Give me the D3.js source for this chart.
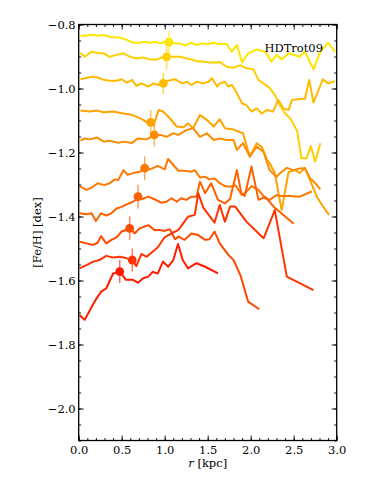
<!DOCTYPE html>
<html>
<head>
<meta charset="utf-8">
<script src="https://cdn.jsdelivr.net/npm/d3@7"></script>
<style>
  body { margin: 0; background: #fff; }
  svg text { font-family: "DejaVu Serif", serif; fill: #000; }
</style>
</head>
<body>
<svg id="chart" width="374" height="498"></svg>
<script>
// radial [Fe/H] profiles, one per age bin, [r (kpc), [Fe/H] (dex)]
const line1 = [[0.02,-0.835],[0.07,-0.835],[0.15,-0.832],[0.23,-0.835],[0.29,-0.833],[0.38,-0.840],[0.46,-0.840],[0.56,-0.848],[0.64,-0.857],[0.71,-0.857],[0.77,-0.854],[0.83,-0.857],[0.89,-0.854],[0.95,-0.859],[1.00,-0.854],[1.12,-0.859],[1.18,-0.859],[1.24,-0.866],[1.31,-0.857],[1.37,-0.864],[1.43,-0.859],[1.51,-0.861],[1.57,-0.857],[1.62,-0.861],[1.72,-0.861],[1.78,-0.885],[1.84,-0.864],[1.90,-0.919],[1.97,-0.890],[2.07,-0.878],[2.17,-0.885],[2.24,-0.916],[2.30,-0.895],[2.36,-0.909],[2.44,-0.890],[2.57,-0.901],[2.63,-0.885],[2.73,-0.940],[2.81,-0.885],[2.90,-0.857],[2.98,-0.885]];
const line2 = [[0.02,-0.888],[0.07,-0.901],[0.15,-0.885],[0.23,-0.890],[0.29,-0.890],[0.36,-0.901],[0.44,-0.895],[0.52,-0.890],[0.60,-0.901],[0.67,-0.906],[0.75,-0.903],[0.83,-0.909],[0.91,-0.909],[0.97,-0.903],[1.02,-0.901],[1.10,-0.901],[1.18,-0.901],[1.26,-0.906],[1.33,-0.911],[1.39,-0.916],[1.45,-0.916],[1.53,-0.919],[1.61,-0.919],[1.64,-0.917],[1.72,-0.932],[1.80,-0.935],[1.88,-0.927],[1.95,-0.937],[2.03,-0.940],[2.09,-0.973],[2.15,-0.984],[2.22,-0.998],[2.28,-1.020],[2.34,-1.052],[2.40,-1.078],[2.46,-1.093],[2.54,-1.133],[2.59,-1.218],[2.65,-1.218],[2.70,-1.180],[2.75,-1.229],[2.81,-1.171]];
const line3 = [[0.02,-0.971],[0.07,-0.968],[0.15,-0.963],[0.21,-0.965],[0.29,-0.973],[0.36,-0.976],[0.44,-0.976],[0.50,-0.971],[0.56,-0.982],[0.62,-0.973],[0.67,-0.992],[0.73,-0.984],[0.81,-0.994],[0.87,-0.984],[0.93,-0.989],[1.04,-0.976],[1.12,-0.971],[1.20,-0.984],[1.26,-0.979],[1.31,-0.989],[1.37,-0.979],[1.45,-0.984],[1.51,-0.979],[1.55,-0.968],[1.61,-0.994],[1.64,-0.984],[1.70,-0.979],[1.74,-0.994],[1.78,-0.989],[1.82,-1.005],[1.90,-1.046],[1.95,-1.052],[2.01,-1.072],[2.07,-1.062],[2.13,-1.078],[2.19,-1.067],[2.26,-1.072],[2.32,-1.036],[2.38,-1.062],[2.44,-1.067],[2.48,-1.036],[2.57,-1.033],[2.63,-1.033],[2.68,-0.973],[2.73,-1.044],[2.84,-0.971],[2.90,-0.984],[2.98,-0.977]];
const line4 = [[0.02,-1.069],[0.13,-1.072],[0.21,-1.069],[0.29,-1.074],[0.40,-1.072],[0.52,-1.078],[0.60,-1.081],[0.67,-1.088],[0.75,-1.098],[0.81,-1.109],[0.87,-1.115],[0.93,-1.067],[0.98,-1.072],[1.06,-1.093],[1.14,-1.119],[1.22,-1.121],[1.27,-1.109],[1.33,-1.124],[1.41,-1.083],[1.49,-1.098],[1.57,-1.119],[1.64,-1.096],[1.70,-1.124],[1.80,-1.128],[1.84,-1.133],[1.91,-1.140],[1.99,-1.213],[2.07,-1.171],[2.13,-1.183],[2.19,-1.223],[2.22,-1.233],[2.28,-1.264],[2.36,-1.380],[2.44,-1.261],[2.52,-1.255],[2.57,-1.264],[2.63,-1.248],[2.69,-1.286],[2.77,-1.339],[2.83,-1.364],[2.91,-1.395]];
const line5 = [[0.02,-1.163],[0.07,-1.156],[0.13,-1.159],[0.21,-1.153],[0.29,-1.166],[0.36,-1.163],[0.46,-1.170],[0.52,-1.166],[0.62,-1.170],[0.69,-1.156],[0.79,-1.159],[0.88,-1.145],[0.95,-1.145],[1.02,-1.151],[1.10,-1.140],[1.16,-1.145],[1.25,-1.130],[1.33,-1.124],[1.41,-1.151],[1.49,-1.140],[1.57,-1.161],[1.64,-1.156],[1.72,-1.161],[1.80,-1.161],[1.84,-1.192],[1.91,-1.171],[1.99,-1.213],[2.07,-1.182],[2.15,-1.198],[2.22,-1.255],[2.30,-1.276],[2.36,-1.260],[2.42,-1.248],[2.50,-1.255],[2.57,-1.250],[2.63,-1.249],[2.69,-1.280],[2.75,-1.296],[2.81,-1.315]];
const line6 = [[0.01,-1.305],[0.09,-1.317],[0.15,-1.310],[0.22,-1.296],[0.30,-1.302],[0.36,-1.296],[0.42,-1.284],[0.46,-1.286],[0.52,-1.255],[0.57,-1.270],[0.65,-1.263],[0.71,-1.260],[0.77,-1.250],[0.83,-1.253],[0.86,-1.249],[0.92,-1.242],[1.00,-1.253],[1.04,-1.220],[1.10,-1.239],[1.16,-1.257],[1.23,-1.257],[1.31,-1.260],[1.35,-1.255],[1.41,-1.278],[1.47,-1.276],[1.52,-1.284],[1.58,-1.281],[1.64,-1.296],[1.70,-1.305],[1.76,-1.307],[1.82,-1.302],[1.90,-1.333],[1.95,-1.323],[2.01,-1.305],[2.09,-1.317],[2.17,-1.343],[2.22,-1.348],[2.30,-1.333],[2.36,-1.336],[2.46,-1.336],[2.57,-1.338],[2.71,-1.322]];
const line7 = [[0.01,-1.390],[0.09,-1.393],[0.15,-1.390],[0.20,-1.414],[0.26,-1.390],[0.32,-1.397],[0.38,-1.390],[0.44,-1.375],[0.50,-1.370],[0.55,-1.363],[0.63,-1.354],[0.69,-1.343],[0.73,-1.346],[0.81,-1.338],[0.88,-1.346],[0.96,-1.357],[1.02,-1.354],[1.08,-1.343],[1.14,-1.354],[1.19,-1.343],[1.25,-1.348],[1.31,-1.338],[1.37,-1.338],[1.41,-1.291],[1.47,-1.327],[1.54,-1.296],[1.62,-1.348],[1.70,-1.359],[1.76,-1.345],[1.84,-1.255],[1.89,-1.327],[1.93,-1.336],[2.01,-1.244],[2.09,-1.348],[2.17,-1.339],[2.28,-1.373],[2.50,-1.423]];
const line8 = [[0.01,-1.479],[0.09,-1.484],[0.17,-1.489],[0.22,-1.482],[0.26,-1.461],[0.32,-1.484],[0.38,-1.473],[0.44,-1.465],[0.50,-1.447],[0.55,-1.442],[0.60,-1.437],[0.65,-1.453],[0.71,-1.437],[0.81,-1.427],[0.88,-1.442],[0.94,-1.442],[1.00,-1.445],[1.06,-1.440],[1.12,-1.471],[1.16,-1.463],[1.23,-1.473],[1.31,-1.453],[1.39,-1.458],[1.47,-1.473],[1.52,-1.471],[1.58,-1.447],[1.64,-1.484],[1.74,-1.520],[1.80,-1.536],[1.88,-1.583],[1.97,-1.666],[2.10,-1.690]];
const line9 = [[0.01,-1.562],[0.09,-1.552],[0.17,-1.541],[0.24,-1.536],[0.32,-1.523],[0.40,-1.528],[0.48,-1.526],[0.55,-1.530],[0.62,-1.536],[0.67,-1.555],[0.73,-1.517],[0.79,-1.526],[0.86,-1.510],[0.92,-1.496],[1.00,-1.465],[1.08,-1.453],[1.16,-1.442],[1.27,-1.401],[1.35,-1.395],[1.39,-1.327],[1.45,-1.373],[1.58,-1.419],[1.64,-1.364],[1.70,-1.416],[1.76,-1.369],[1.82,-1.369],[1.95,-1.416],[2.05,-1.442],[2.15,-1.468],[2.28,-1.380],[2.42,-1.588],[2.73,-1.630]];
const line10 = [[0.01,-1.708],[0.07,-1.723],[0.15,-1.683],[0.21,-1.655],[0.26,-1.635],[0.32,-1.625],[0.40,-1.578],[0.48,-1.573],[0.55,-1.598],[0.63,-1.598],[0.69,-1.607],[0.75,-1.593],[0.81,-1.588],[0.86,-1.573],[0.92,-1.578],[0.98,-1.541],[1.04,-1.557],[1.10,-1.536],[1.155,-1.486],[1.21,-1.536],[1.27,-1.562],[1.37,-1.546],[1.47,-1.557],[1.62,-1.578]];
const profiles = [line1, line2, line3, line4, line5, line6, line7, line8, line9, line10];

// mean radius / metallicity of each bin, with error bar half-length
const meanR = [1.05, 1.023, 0.984, 0.837, 0.879, 0.767, 0.690, 0.593, 0.623, 0.477];
const meanFeH = [-0.855, -0.901, -0.984, -1.106, -1.145, -1.249, -1.338, -1.437, -1.536, -1.572];
const errFeH = [0.035, 0.039, 0.033, 0.039, 0.036, 0.037, 0.037, 0.037, 0.036, 0.036];

const lineColors = ['#ffe600', '#ffcf00', '#ffba00', '#ffa300', '#ff8c00', '#ff7800', '#ff6100', '#ff4a00', '#ff3300', '#ff1a00'];

const xTicks = [0.0, 0.5, 1.0, 1.5, 2.0, 2.5, 3.0];
const yTicks = [-2.0, -1.8, -1.6, -1.4, -1.2, -1.0, -0.8];
const labelText = 'HDTrot09';

const svg = d3.select('#chart');
const mLeft = 78.7, mRight = 336.7, mTop = 24.5, mBottom = 440.5;

const x = d3.scaleLinear().domain([0, 3]).range([mLeft, mRight]);
const y = d3.scaleLinear().domain([-2.1, -0.8]).range([mBottom, mTop]);

const fmt = d3.format('.1f');
const xMinor = d3.range(0, 3.0001, 0.1);
const yMinor = d3.range(-2.1, -0.7999, 0.05);

// profiles
const line = d3.line().x(d => x(d[0])).y(d => y(d[1]));
profiles.forEach((p, i) => {
    svg.append('path')
        .datum(p)
        .attr('d', line)
        .attr('fill', 'none')
        .attr('stroke', lineColors[i])
        .attr('stroke-width', 2)
        .attr('stroke-linejoin', 'round');

    svg.append('line')
        .attr('x1', x(meanR[i])).attr('x2', x(meanR[i]))
        .attr('y1', y(meanFeH[i] - errFeH[i])).attr('y2', y(meanFeH[i] + errFeH[i]))
        .attr('stroke', lineColors[i])
        .attr('stroke-opacity', 0.65)
        .attr('stroke-width', 1.5);

    svg.append('circle')
        .attr('cx', x(meanR[i]))
        .attr('cy', y(meanFeH[i]))
        .attr('r', 4.4)
        .attr('fill', lineColors[i]);
});

// axes, ticks pointing inwards on all four sides
function styleAxis(g) {
    g.select('.domain').remove();
    g.selectAll('.tick line').attr('stroke', '#000').attr('stroke-width', 0.9);
    g.selectAll('text').style('font-family', '"DejaVu Serif", serif').style('font-size', '11.5px').attr('fill', '#000');
}

svg.append('g').attr('transform', `translate(0,${mBottom})`)
    .call(d3.axisBottom(x).tickValues(xTicks).tickFormat(fmt).tickSizeInner(-5).tickSizeOuter(0).tickPadding(5))
    .call(styleAxis);
svg.append('g').attr('transform', `translate(0,${mBottom})`)
    .call(d3.axisBottom(x).tickValues(xMinor).tickFormat('').tickSizeInner(-2.5).tickSizeOuter(0))
    .call(styleAxis);
svg.append('g').attr('transform', `translate(0,${mTop})`)
    .call(d3.axisTop(x).tickValues(xTicks).tickFormat('').tickSizeInner(-5).tickSizeOuter(0))
    .call(styleAxis);
svg.append('g').attr('transform', `translate(0,${mTop})`)
    .call(d3.axisTop(x).tickValues(xMinor).tickFormat('').tickSizeInner(-2.5).tickSizeOuter(0))
    .call(styleAxis);

svg.append('g').attr('transform', `translate(${mLeft},0)`)
    .call(d3.axisLeft(y).tickValues(yTicks).tickFormat(fmt).tickSizeInner(-5).tickSizeOuter(0).tickPadding(3))
    .call(styleAxis);
svg.append('g').attr('transform', `translate(${mLeft},0)`)
    .call(d3.axisLeft(y).tickValues(yMinor).tickFormat('').tickSizeInner(-2.5).tickSizeOuter(0))
    .call(styleAxis);
svg.append('g').attr('transform', `translate(${mRight},0)`)
    .call(d3.axisRight(y).tickValues(yTicks).tickFormat('').tickSizeInner(-5).tickSizeOuter(0))
    .call(styleAxis);
svg.append('g').attr('transform', `translate(${mRight},0)`)
    .call(d3.axisRight(y).tickValues(yMinor).tickFormat('').tickSizeInner(-2.5).tickSizeOuter(0))
    .call(styleAxis);

svg.append('rect')
    .attr('x', mLeft).attr('y', mTop)
    .attr('width', mRight - mLeft).attr('height', mBottom - mTop)
    .attr('fill', 'none')
    .attr('stroke', '#000')
    .attr('stroke-width', 1.3);

// labels
svg.append('text')
    .attr('x', 323).attr('y', 51.5)
    .attr('text-anchor', 'end')
    .style('font-size', '11.5px')
    .text(labelText);

const xl = svg.append('text')
    .attr('x', (mLeft + mRight) / 2).attr('y', 467)
    .attr('text-anchor', 'middle')
    .style('font-size', '11.5px');
xl.append('tspan').style('font-style', 'italic').text('r');
xl.append('tspan').text(' [kpc]');

svg.append('text')
    .attr('transform', `translate(41,${(mTop + mBottom) / 2}) rotate(-90)`)
    .attr('text-anchor', 'middle')
    .style('font-size', '11.5px')
    .text('[Fe/H] [dex]');
</script>
</body>
</html>
